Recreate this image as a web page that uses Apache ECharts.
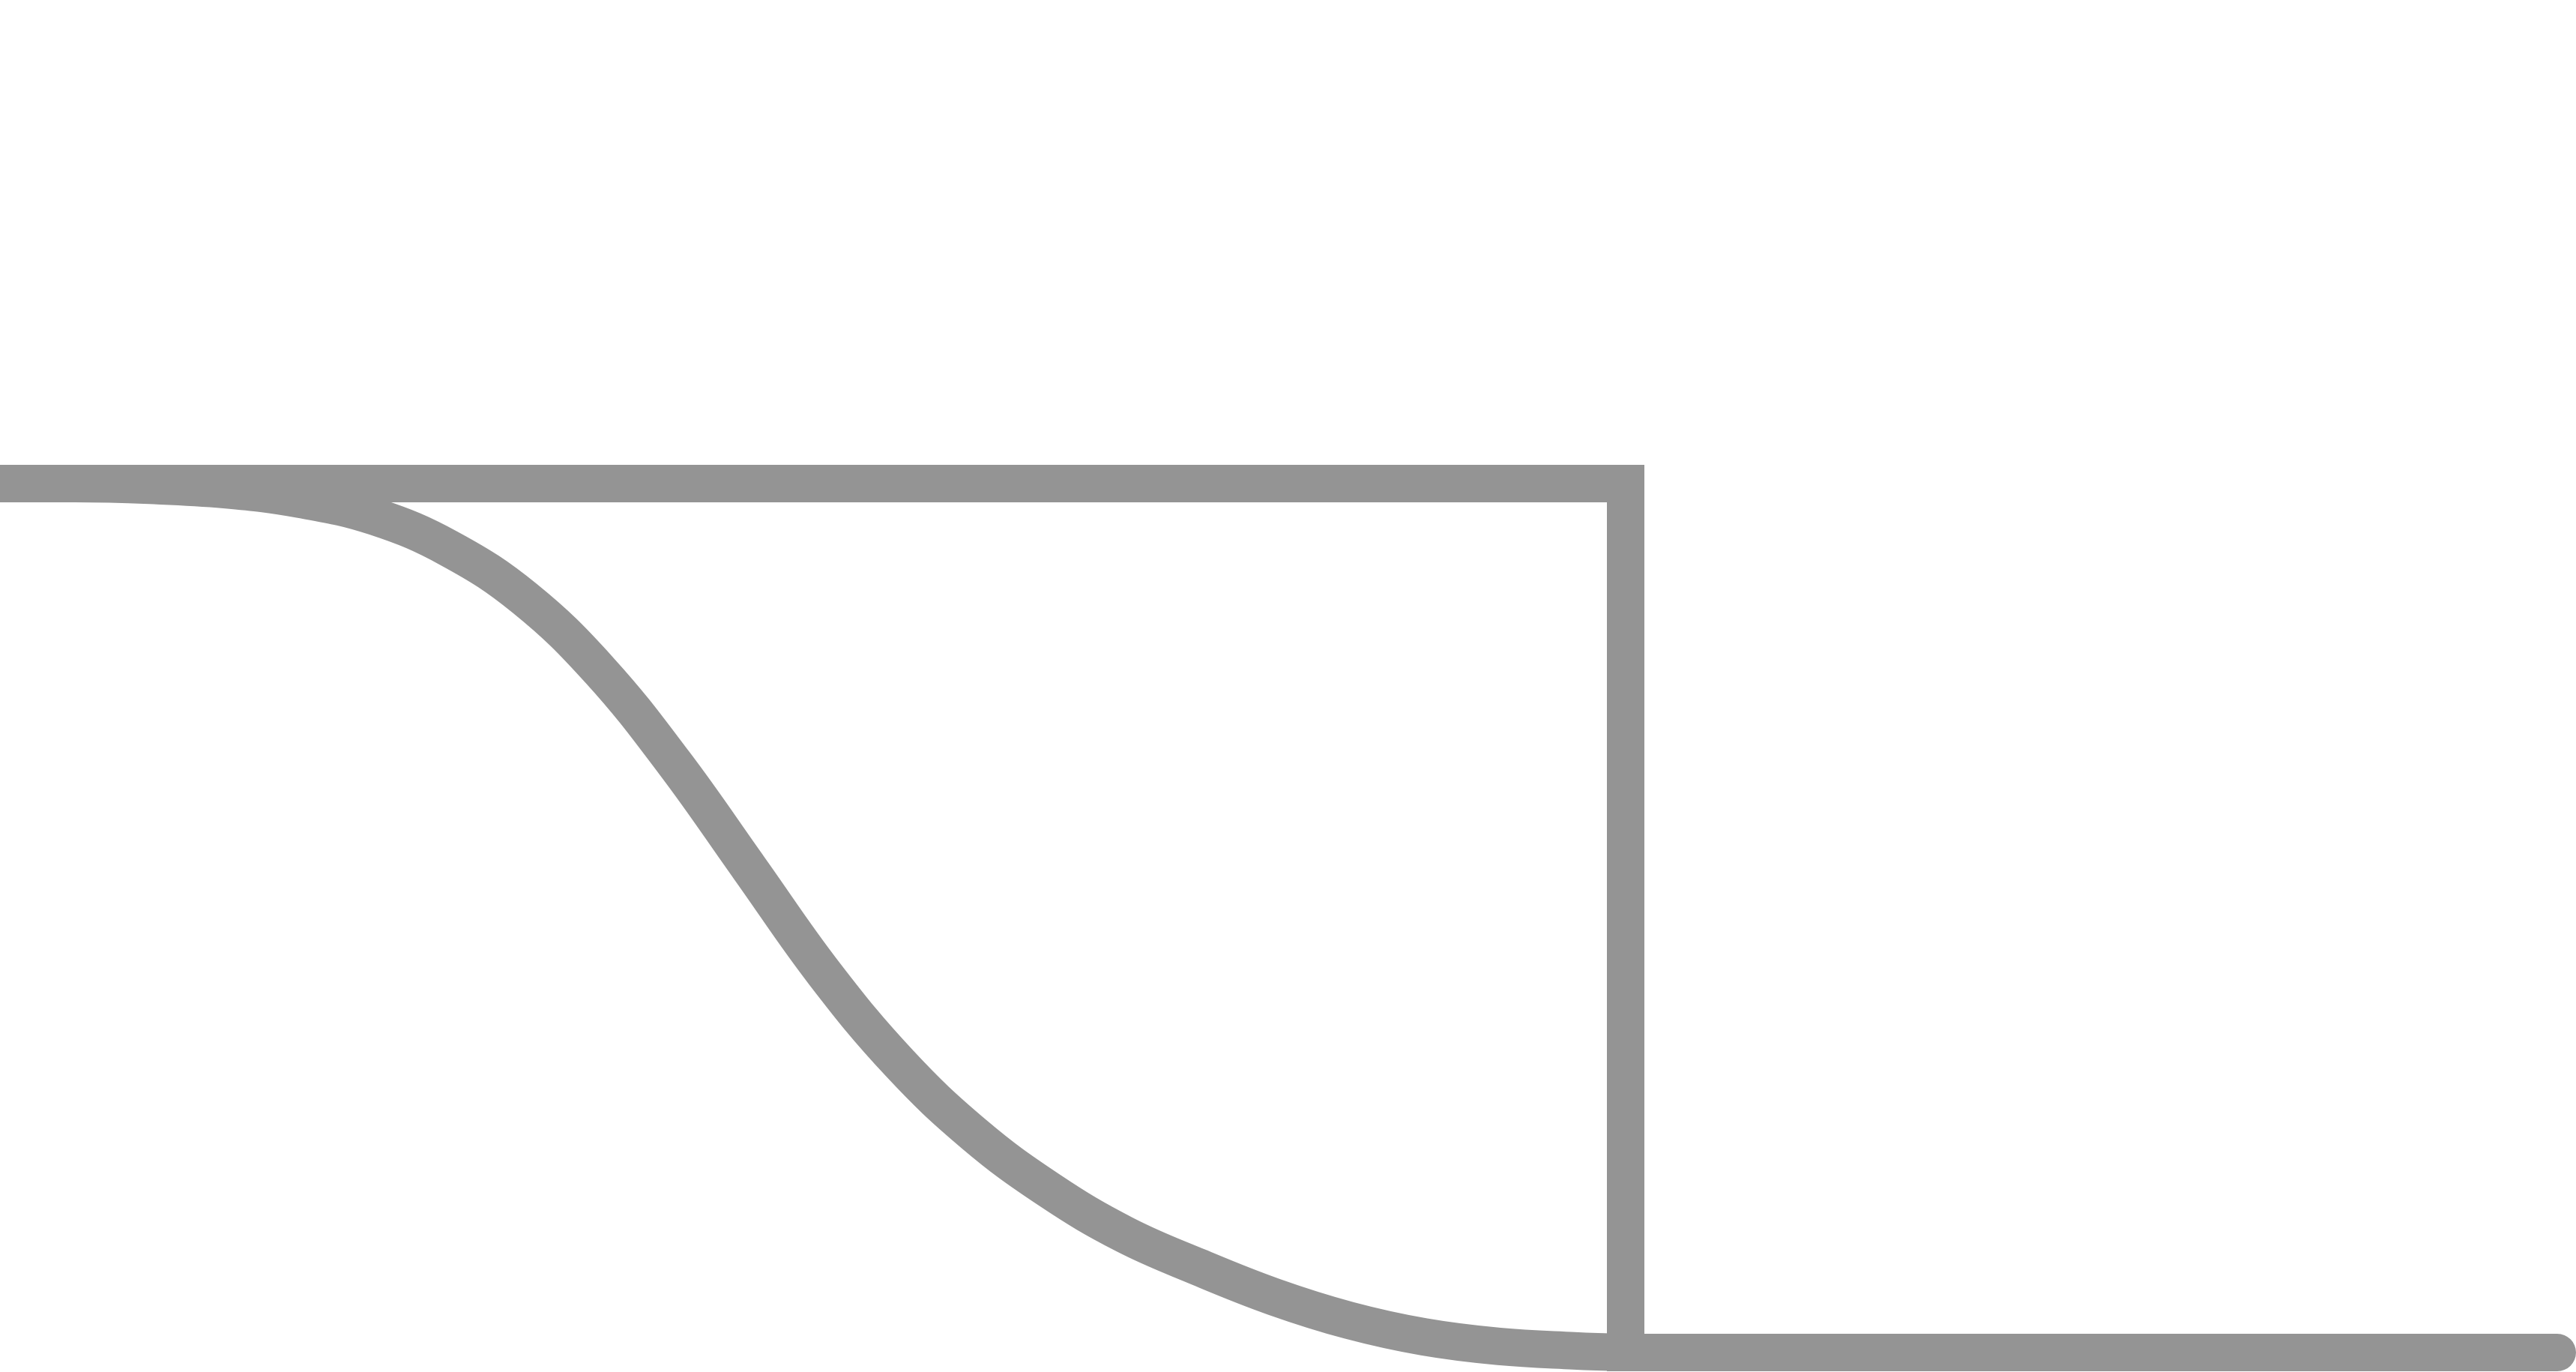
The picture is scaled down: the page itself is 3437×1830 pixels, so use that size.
<!DOCTYPE html>
<html>
<head>
<meta charset="utf-8">
<script src="https://cdn.jsdelivr.net/npm/echarts@6/dist/echarts.min.js"></script>
<style>
  html, body { margin: 0; padding: 0; background: #ffffff; }
  #chart { width: 3437px; height: 1830px; }
</style>
</head>
<body>
<div id="chart"></div>
<script>
// Step outline: level 1 until the drop, then level 0 to the end
const stepX = [0, 21.69, 21.69, 34.12];
const stepY = [1, 1, 0, 0];

// Smooth descending curve (y normalised between the two levels)
const curveX = [0, 1, 2, 3, 4, 5, 6, 7, 8, 9, 10, 11, 12, 13, 14, 15, 16, 17, 18, 19, 20, 21, 21.69];
const curveY = [1.000, 1.000, 0.998, 0.993, 0.982, 0.962, 0.925, 0.868, 0.785, 0.678, 0.557, 0.436,
                0.333, 0.251, 0.187, 0.136, 0.098, 0.064, 0.037, 0.018, 0.007, 0.002, 0.000];

const lineColor = '#949494';

const chart = echarts.init(document.getElementById('chart'), null, { renderer: 'canvas' });
chart.setOption({
  animation: false,
  backgroundColor: '#ffffff',
  grid: { left: 0, right: 25, top: 645, bottom: 26, containLabel: false },
  xAxis: { type: 'value', min: 0, max: 34.12, show: false, splitLine: { show: false } },
  yAxis: { type: 'value', min: 0, max: 1, show: false, splitLine: { show: false } },
  series: [
    {
      type: 'line',
      data: curveX.map((x, i) => [x, curveY[i]]),
      symbol: 'none',
      smooth: 0.4,
      clip: false,
      lineStyle: { color: lineColor, width: 50, cap: 'butt', join: 'round' },
      silent: true
    },
    {
      type: 'line',
      data: stepX.map((x, i) => [x, stepY[i]]),
      symbol: 'none',
      clip: false,
      lineStyle: { color: lineColor, width: 50, cap: 'round', join: 'miter' },
      silent: true
    }
  ]
});
</script>
</body>
</html>
